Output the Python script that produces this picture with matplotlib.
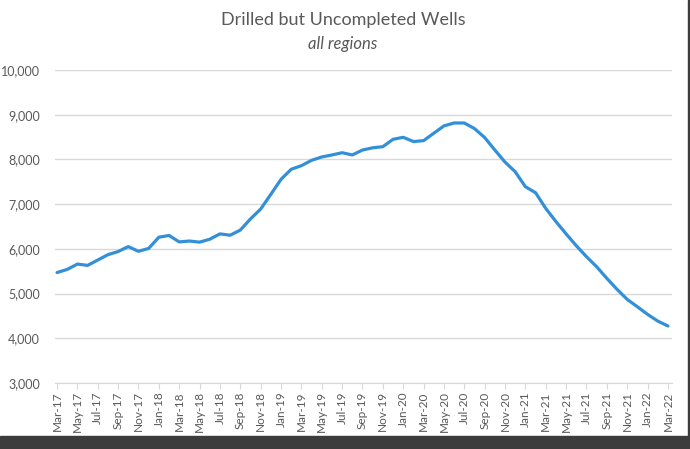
import matplotlib.pyplot as plt
from matplotlib.patches import Rectangle

# monthly DUC count, Mar-17 .. Mar-22
months = ['Mar-17', 'Apr-17', 'May-17', 'Jun-17', 'Jul-17', 'Aug-17', 'Sep-17', 'Oct-17',
          'Nov-17', 'Dec-17', 'Jan-18', 'Feb-18', 'Mar-18', 'Apr-18', 'May-18', 'Jun-18',
          'Jul-18', 'Aug-18', 'Sep-18', 'Oct-18', 'Nov-18', 'Dec-18', 'Jan-19', 'Feb-19',
          'Mar-19', 'Apr-19', 'May-19', 'Jun-19', 'Jul-19', 'Aug-19', 'Sep-19', 'Oct-19',
          'Nov-19', 'Dec-19', 'Jan-20', 'Feb-20', 'Mar-20', 'Apr-20', 'May-20', 'Jun-20',
          'Jul-20', 'Aug-20', 'Sep-20', 'Oct-20', 'Nov-20', 'Dec-20', 'Jan-21', 'Feb-21',
          'Mar-21', 'Apr-21', 'May-21', 'Jun-21', 'Jul-21', 'Aug-21', 'Sep-21', 'Oct-21',
          'Nov-21', 'Dec-21', 'Jan-22', 'Feb-22', 'Mar-22']
duc = [5470, 5540, 5660, 5630, 5750, 5870, 5940, 6050, 5945, 6010,
       6260, 6300, 6155, 6175, 6150, 6215, 6335, 6305, 6420, 6670,
       6890, 7220, 7555, 7780, 7860, 7980, 8055, 8100, 8150, 8100,
       8210, 8260, 8285, 8450, 8495, 8400, 8420, 8585, 8750, 8815,
       8815, 8690, 8490, 8210, 7940, 7725, 7390, 7255, 6905, 6610,
       6335, 6070, 5825, 5600, 5340, 5095, 4870, 4705, 4535, 4385, 4275]
yticks = [3000, 4000, 5000, 6000, 7000, 8000, 9000, 10000]

plt.rcParams['font.family'] = ['Lato', 'DejaVu Sans']
grey = '#595959'

fig = plt.figure(figsize=(6.9, 4.49), dpi=100)
ax = fig.add_axes([55 / 690, 66 / 449, 617 / 690, 313 / 449])

x = list(range(len(duc)))
ax.plot(x, duc, color='#3390d8', linewidth=2.3, solid_capstyle='round', zorder=3)

ax.set_ylim(3000, 10000)
ax.set_xlim(-0.2, 60.4)
ax.set_yticks(yticks)
ax.set_yticklabels([f'{v:,}' for v in yticks])
ax.set_xticks(x[::2])
ax.set_xticklabels(months[::2], rotation=90)
ax.grid(axis='y', color='#d9d9d9', linewidth=1)
ax.set_axisbelow(True)
for s in ['top', 'right', 'left']:
    ax.spines[s].set_visible(False)
ax.spines['bottom'].set_color('#d9d9d9')
ax.tick_params(axis='y', length=0, pad=11, labelsize=9, labelcolor=grey)
ax.tick_params(axis='x', length=4, color='#d9d9d9', pad=2, labelsize=8.5, labelcolor=grey)

fig.text(0.497, 0.955, 'Drilled but Uncompleted Wells', ha='center', va='center',
         fontsize=13, color=grey)
fig.text(0.497, 0.903, 'all regions', ha='center', va='center',
         fontsize=12, style='italic', color=grey)

# dark screenshot edges
fig.patches.append(Rectangle((0, 0), 1, 13 / 449, transform=fig.transFigure,
                             color='#3c3c3c', zorder=10))
fig.patches.append(Rectangle((688 / 690, 0), 2 / 690, 1, transform=fig.transFigure,
                             color='#3c3c3c', zorder=10))

fig.savefig('out.png', dpi=100)
